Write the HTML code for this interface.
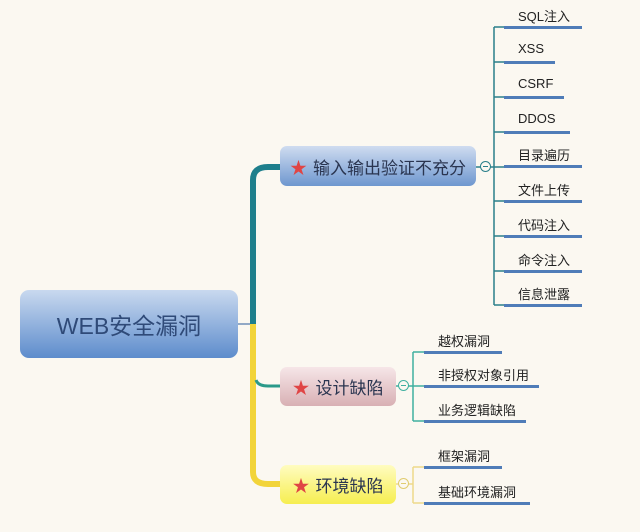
<!DOCTYPE html>
<html><head><meta charset="utf-8"><style>
html,body{margin:0;padding:0}
body{width:640px;height:532px;background:#fbf8f1;position:relative;overflow:hidden;font-family:"Liberation Sans","Noto Sans CJK SC",sans-serif}
.box{position:absolute;border-radius:7px;box-sizing:border-box;color:#2a3550;display:flex;align-items:center;justify-content:center}
.t{position:absolute;font-size:13px;color:#222}
.u{position:absolute;height:3px;background:#4f7cb8}
.star{color:#e04545;margin-right:6px;font-size:17px}
.c{position:absolute;width:11px;height:11px;border-radius:50%;border:1.5px solid;box-sizing:border-box;background:#fbf8f1}
.c:after{content:"";position:absolute;left:2px;right:2px;top:3.5px;height:1px;background:currentColor}
</style></head><body>
<svg width="640" height="532" style="position:absolute;left:0;top:0">
<path d="M238 324 H253" stroke="#6f8fb8" stroke-width="1.5" fill="none"/>
<path d="M253 324 V180 Q253 167 268 167 H282" stroke="#1e7f8c" stroke-width="6" fill="none"/>
<path d="M253 324 V472 Q253 484 268 484 H282" stroke="#f2d43a" stroke-width="6" fill="none"/>
<path d="M256 380 Q258 386 268 386 H282" stroke="#2a9a8a" stroke-width="3" fill="none"/>
<path d="M476 167 H494 M494 27 V305 M494 27 H504 M494 62 H504 M494 97 H504 M494 132 H504 M494 167 H504 M494 201 H504 M494 236 H504 M494 271 H504 M494 305 H504" stroke="#2a7f8a" stroke-width="1.5" fill="none"/>
<path d="M396 386 H424 M413 352 V421 M413 352 H424 M413 421 H424" stroke="#3fb0a0" stroke-width="1.5" fill="none"/>
<path d="M396 484 H413 M413 467 V503 M413 467 H424 M413 503 H424" stroke="#eed98a" stroke-width="1.5" fill="none"/>
</svg>
<div class="box" style="left:20px;top:290px;width:218px;height:68px;background:linear-gradient(#c9d9ef,#5d8ccc);font-size:23px;color:#2f4a78;border-radius:9px">WEB安全漏洞</div>
<div class="box" style="left:280px;top:146px;width:196px;height:40px;background:linear-gradient(#cfdcf0,#6e97cf);font-size:17px"><span class="star">★</span>输入输出验证不充分</div>
<div class="box" style="left:280px;top:367px;width:116px;height:39px;background:linear-gradient(#f6e6e8,#d8b0b4);font-size:17px"><span class="star">★</span>设计缺陷</div>
<div class="box" style="left:280px;top:465px;width:116px;height:39px;background:linear-gradient(#fffcc0,#f6ee50);font-size:17px"><span class="star">★</span>环境缺陷</div>
<div class="c" style="left:480px;top:161px;color:#2a7f8a"></div>
<div class="c" style="left:398px;top:380px;color:#3fb0a0"></div>
<div class="c" style="left:398px;top:478px;color:#e0cc70"></div>

<div class="t" style="left:518px;top:6px">SQL注入</div><div class="u" style="left:504px;top:26px;width:78px"></div>
<div class="t" style="left:518px;top:41px">XSS</div><div class="u" style="left:504px;top:61px;width:51px"></div>
<div class="t" style="left:518px;top:76px">CSRF</div><div class="u" style="left:504px;top:96px;width:60px"></div>
<div class="t" style="left:518px;top:111px">DDOS</div><div class="u" style="left:504px;top:131px;width:66px"></div>
<div class="t" style="left:518px;top:145px">目录遍历</div><div class="u" style="left:504px;top:165px;width:78px"></div>
<div class="t" style="left:518px;top:180px">文件上传</div><div class="u" style="left:504px;top:200px;width:78px"></div>
<div class="t" style="left:518px;top:215px">代码注入</div><div class="u" style="left:504px;top:235px;width:78px"></div>
<div class="t" style="left:518px;top:250px">命令注入</div><div class="u" style="left:504px;top:270px;width:78px"></div>
<div class="t" style="left:518px;top:284px">信息泄露</div><div class="u" style="left:504px;top:304px;width:78px"></div>

<div class="t" style="left:438px;top:331px">越权漏洞</div><div class="u" style="left:424px;top:351px;width:78px"></div>
<div class="t" style="left:438px;top:365px">非授权对象引用</div><div class="u" style="left:424px;top:385px;width:115px"></div>
<div class="t" style="left:438px;top:400px">业务逻辑缺陷</div><div class="u" style="left:424px;top:420px;width:102px"></div>
<div class="t" style="left:438px;top:446px">框架漏洞</div><div class="u" style="left:424px;top:466px;width:78px"></div>
<div class="t" style="left:438px;top:482px">基础环境漏洞</div><div class="u" style="left:424px;top:502px;width:106px"></div>
</body></html>
